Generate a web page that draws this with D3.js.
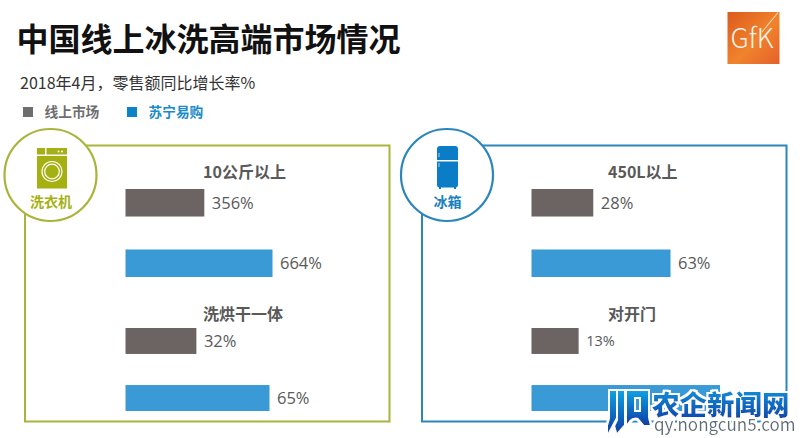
<!DOCTYPE html>
<html>
<head>
<meta charset="utf-8">
<script src="https://cdnjs.cloudflare.com/ajax/libs/d3/7.8.5/d3.min.js"></script>
<style>
	html, body { margin: 0; padding: 0; background: #fff; }
	svg { display: block; }
	text { font-family: "Noto Sans CJK SC", sans-serif; }
	.value { font-family: "Open Sans", "Noto Sans CJK SC", sans-serif; fill: #595959; }
	.cat { font-weight: 700; font-size: 16px; fill: #595959; }
</style>
</head>
<body>
<div id="chart"></div>
<script>
var seriesNames = ['线上市场', '苏宁易购'];
var panelNames = ['洗衣机', '冰箱'];
var categories = [['10公斤以上', '洗烘干一体'], ['450L以上', '对开门']];
var online = [[356, 32], [28, 13]];
// last blue bar: its label sits under the watermark, length is estimated
var suning = [[664, 65], [63, 52]];
var onlineLabels = [['356%', '32%'], ['28%', '13%']];
var suningLabels = [['664%', '65%'], ['63%', '']];

var width = 800, height = 438;
var colors = { online: '#6b6462', suning: '#3a9ad6' };
var legendColors = ['#6e6e6e', '#0a84c6'];
var legendText = ['#6e6e6e', '#1a8ac8'];
var panels = [
	{ x: 25, w: 364.5, barX: 125.5, labelX: 203, line: '#a9b53a', icon: '#a5b012', cx: 50.5, text: '#a5b012' },
	{ x: 422, w: 364.5, barX: 531.5, labelX: 608, line: '#2a86bb', icon: '#0b7cc6', cx: 447, text: '#1a7fbf' }
];
// bar lengths in px of the largest bar per group, each group has its own scale
var maxLength = [[147, 144], [139, 188.5]];
var groupY = [[189, 277], [328, 411]];
var catY = [178, 320];

var svg = d3.select('#chart').append('svg')
	.attr('width', width)
	.attr('height', height);

var defs = svg.append('defs');
var logoGrad = defs.append('linearGradient').attr('id', 'logoGrad')
	.attr('x1', 0).attr('y1', 0).attr('x2', 1).attr('y2', 1);
logoGrad.append('stop').attr('offset', '0%').attr('stop-color', '#dc5a1e');
logoGrad.append('stop').attr('offset', '55%').attr('stop-color', '#f0832c');
logoGrad.append('stop').attr('offset', '100%').attr('stop-color', '#e4602a');
var markGrad = defs.append('linearGradient').attr('id', 'markGrad')
	.attr('x1', 0).attr('y1', 0).attr('x2', 0).attr('y2', 1);
markGrad.append('stop').attr('offset', '0%').attr('stop-color', '#12a0e0');
markGrad.append('stop').attr('offset', '100%').attr('stop-color', '#0a3fa8');
var glow = defs.append('filter').attr('id', 'glow')
	.attr('x', '-10%').attr('y', '-30%').attr('width', '120%').attr('height', '160%');
glow.append('feMorphology').attr('in', 'SourceAlpha').attr('operator', 'dilate').attr('radius', 1.5).attr('result', 'fat');
glow.append('feFlood').attr('flood-color', '#fff');
glow.append('feComposite').attr('in2', 'fat').attr('operator', 'in').attr('result', 'halo');
var glowMerge = glow.append('feMerge');
glowMerge.append('feMergeNode').attr('in', 'halo');
glowMerge.append('feMergeNode').attr('in', 'SourceGraphic');

// header
svg.append('text')
	.attr('x', 16.5).attr('y', 51)
	.attr('font-size', 32).attr('font-weight', 700).attr('fill', '#111')
	.text('中国线上冰洗高端市场情况');
svg.append('text')
	.attr('x', 20).attr('y', 89)
	.attr('font-size', 16).attr('fill', '#333')
	.text('2018年4月，零售额同比增长率%');

// legend
var legendX = d3.scalePoint().domain(seriesNames).range([23, 127]);
var legend = svg.selectAll('.legend').data(seriesNames).enter().append('g')
	.attr('class', 'legend')
	.attr('transform', function(d) { return 'translate(' + legendX(d) + ',107)'; });
legend.append('rect')
	.attr('width', 10).attr('height', 10)
	.attr('fill', function(d, i) { return legendColors[i]; });
legend.append('text')
	.attr('x', 21.5).attr('y', 10)
	.attr('font-size', 13.7).attr('font-weight', 700)
	.attr('fill', function(d, i) { return legendText[i]; })
	.text(function(d) { return d; });

// panels
panels.forEach(function(p, pi) {
	var g = svg.append('g').attr('class', 'panel');

	g.append('rect')
		.attr('x', p.x).attr('y', 145.5)
		.attr('width', p.w).attr('height', 276)
		.attr('fill', '#fff')
		.attr('stroke', p.line).attr('stroke-width', 2);

	categories[pi].forEach(function(cat, ci) {
		var x = d3.scaleLinear()
			.domain([0, Math.max(online[pi][ci], suning[pi][ci])])
			.range([p.barX, p.barX + maxLength[pi][ci]]);
		var y = d3.scaleBand()
			.domain(seriesNames)
			.range(groupY[ci])
			.paddingInner(0.545);
		var rows = [
			{ name: seriesNames[0], value: online[pi][ci], label: onlineLabels[pi][ci], color: colors.online },
			{ name: seriesNames[1], value: suning[pi][ci], label: suningLabels[pi][ci], color: colors.suning }
		];

		g.append('text')
			.attr('class', 'cat')
			.attr('x', p.labelX).attr('y', catY[ci])
			.text(cat);

		g.selectAll('.bar' + ci).data(rows).enter().append('rect')
			.attr('class', 'bar' + ci)
			.attr('x', x(0))
			.attr('y', function(d) { return y(d.name); })
			.attr('width', function(d) { return x(d.value) - x(0); })
			.attr('height', y.bandwidth())
			.attr('fill', function(d) { return d.color; });

		g.selectAll('.val' + ci).data(rows).enter().append('text')
			.attr('class', 'value val' + ci)
			.attr('x', function(d) { return x(d.value) + 7.5; })
			.attr('y', function(d) { return y(d.name) + y.bandwidth() / 2; })
			.attr('dy', '.36em')
			.attr('font-size', function(d) { return d.label === '13%' ? 14.5 : 16.5; })
			.text(function(d) { return d.label; });
	});

	g.append('circle')
		.attr('cx', p.cx).attr('cy', 175).attr('r', 46)
		.attr('fill', '#fff')
		.attr('stroke', p.line).attr('stroke-width', 2.2);

	g.append('text')
		.attr('x', p.cx + 0.5).attr('y', 207)
		.attr('text-anchor', 'middle')
		.attr('font-size', 14).attr('font-weight', 700)
		.attr('fill', p.text)
		.text(panelNames[pi]);
});

// washing machine icon
var washer = svg.append('g').attr('fill', panels[0].icon);
washer.append('rect').attr('x', 37).attr('y', 148).attr('width', 8).attr('height', 6.5);
washer.append('rect').attr('x', 46.5).attr('y', 148).attr('width', 20.5).attr('height', 6.5);
washer.append('rect').attr('x', 37).attr('y', 156).attr('width', 30).attr('height', 32.5);
washer.append('circle').attr('cx', 58.5).attr('cy', 151.5).attr('r', 1).attr('fill', '#fff');
washer.append('circle').attr('cx', 62).attr('cy', 151.5).attr('r', 1).attr('fill', '#fff');
washer.append('circle').attr('cx', 52).attr('cy', 171.5).attr('r', 10).attr('fill', 'none').attr('stroke', '#fff').attr('stroke-width', 1.2);
washer.append('circle').attr('cx', 52).attr('cy', 171.5).attr('r', 7.3).attr('fill', 'none').attr('stroke', '#fff').attr('stroke-width', 1.2);

// fridge icon
var fridge = svg.append('g').attr('fill', panels[1].icon);
fridge.append('path').attr('d', 'M437,160V149q0,-3 3,-3H455q3,0 3,3V160Z');
fridge.append('path').attr('d', 'M437,161.5H458V185q0,2 -2,2.5V189H454V187.5H441V189H439V187.5q-2,-.5 -2,-2.5Z');
fridge.append('rect').attr('x', 438.5).attr('y', 153).attr('width', 1).attr('height', 4).attr('fill', '#9fd0ee');
fridge.append('rect').attr('x', 438.5).attr('y', 163).attr('width', 1).attr('height', 4).attr('fill', '#9fd0ee');

// GfK logo
var logo = svg.append('g');
logo.append('rect')
	.attr('x', 727.5).attr('y', 12)
	.attr('width', 52).attr('height', 52)
	.attr('fill', 'url(#logoGrad)');
logo.append('text')
	.attr('x', 730.5).attr('y', 47.5)
	.attr('font-family', 'Lato')
	.attr('font-size', 27).attr('font-weight', 300)
	.attr('fill', '#fff').attr('fill-opacity', 0.92)
	.text('GfK');
logo.append('path')
	.attr('d', 'M778,12.5L762,32')
	.attr('stroke', '#fbd9b8').attr('stroke-width', 1.1).attr('fill', 'none');

// site watermark over the chart
var mark = svg.append('g').attr('class', 'watermark');
var markShapes = mark.append('g').attr('filter', 'url(#glow)');
markShapes.append('path')
	.attr('fill', 'url(#markGrad)')
	.attr('d', 'M610,391H616V418L608,433V425L610,418Z');
markShapes.append('path')
	.attr('fill', 'url(#markGrad)')
	.attr('d', 'M618,391H624V425L617,433L615,426L618,420Z');
markShapes.append('path')
	.attr('fill', 'url(#markGrad)')
	.attr('fill-rule', 'evenodd')
	.attr('d', 'M627,391H648V417L650,425H644L638,418Q633,417 630,420L627,424ZM634,397V412H641V397Z');
mark.append('text')
	.attr('x', 652).attr('y', 415)
	.attr('font-size', 27.5).attr('font-weight', 900)
	.attr('fill', 'url(#markGrad)')
	.attr('filter', 'url(#glow)')
	.text('农企新闻网');
mark.append('text')
	.attr('x', 654).attr('y', 431)
	.attr('font-family', 'Open Sans')
	.attr('font-size', 17)
	.attr('fill', '#5d6d78')
	.attr('filter', 'url(#glow)')
	.text('qy.nongcun5.com');
</script>
</body>
</html>
